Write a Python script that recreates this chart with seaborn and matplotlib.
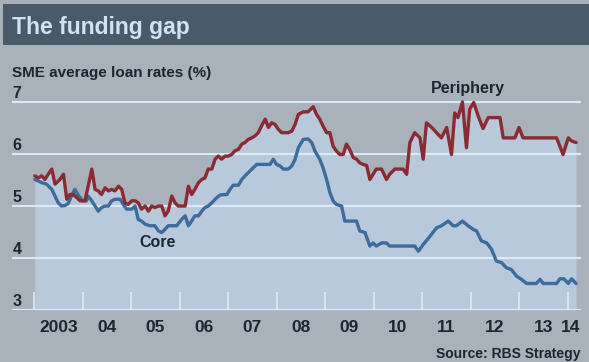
import numpy as np
import pandas as pd
import matplotlib
matplotlib.use("Agg")
import matplotlib.pyplot as plt
from matplotlib.patches import Rectangle
from matplotlib.transforms import blended_transform_factory, offset_copy
import seaborn as sns

# months since Jan 2003, rates in %
periphery_month = [0.2, 1.1, 1.9, 2.7, 3.5, 4.4, 5.2, 6.4, 7.3, 8.1,
                   8.9, 9.7, 10.6, 11.4, 12.6, 13.4, 14.3, 15.1, 15.9, 16.7,
                   17.6, 18.4, 19.2, 20.0, 20.9, 21.7, 22.5, 23.3, 24.2, 25.0,
                   25.8, 26.6, 27.5, 28.3, 29.1, 29.9, 30.8, 31.6, 32.4, 33.2,
                   34.1, 34.9, 35.7, 36.5, 37.4, 38.2, 39.0, 39.8, 40.7, 41.5,
                   42.3, 43.1, 44.0, 44.8, 45.6, 46.4, 47.3, 48.1, 48.9, 49.7,
                   50.6, 51.4, 52.2, 53.0, 53.9, 54.7, 55.5, 56.3, 57.2, 58.0,
                   58.8, 59.6, 60.5, 61.3, 62.1, 62.9, 63.8, 64.6, 65.4,
                   66.6, 67.8, 69.1, 69.9, 70.7, 71.5, 72.4, 73.2, 74.0, 74.8,
                   75.7, 76.5, 77.3, 78.1, 79.0, 79.8, 80.6, 81.4, 82.3, 83.1,
                   83.9, 84.7, 86.0, 87.2, 88.0, 89.3, 90.5, 91.3, 92.2, 93.0,
                   94.2, 95.5, 96.3, 97.1, 98.4, 99.6, 100.8, 102.1, 103.3, 104.1,
                   104.9, 106.0, 107.0, 107.8, 108.8, 109.9, 111.1, 112.4, 114.0, 115.3,
                   116.1, 117.7, 119.0, 120.0, 121.0, 122.7, 126.0, 129.3, 130.9, 132.2,
                   133.0, 134.1]
periphery_rate = [5.58, 5.54, 5.58, 5.51, 5.61, 5.71, 5.42, 5.51, 5.61, 5.13,
                  5.22, 5.22, 5.16, 5.10, 5.10, 5.38, 5.71, 5.32, 5.29, 5.22,
                  5.35, 5.29, 5.32, 5.29, 5.38, 5.32, 5.06, 5.03, 5.10, 5.10,
                  5.06, 4.94, 5.00, 4.90, 5.00, 4.97, 5.00, 5.00, 4.81, 4.90,
                  5.19, 5.06, 5.00, 5.00, 5.00, 5.38, 5.22, 5.32, 5.45, 5.51,
                  5.54, 5.71, 5.71, 5.90, 5.96, 5.90, 5.96, 5.96, 5.99, 6.06,
                  6.09, 6.19, 6.22, 6.28, 6.31, 6.35, 6.41, 6.54, 6.67, 6.51,
                  6.60, 6.57, 6.47, 6.41, 6.41, 6.41, 6.44, 6.57, 6.76,
                  6.81, 6.81, 6.91, 6.76, 6.67, 6.54, 6.41, 6.41, 6.15, 6.06,
                  5.99, 5.99, 6.19, 6.09, 5.93, 5.90, 5.83, 5.80, 5.78, 5.51,
                  5.61, 5.71, 5.71, 5.51, 5.61, 5.71, 5.71, 5.71, 5.61, 6.22,
                  6.41, 6.31, 5.90, 6.60, 6.51, 6.41, 6.31, 6.51, 5.99, 6.79,
                  6.70, 7.00, 6.12, 6.86, 6.99, 6.73, 6.49, 6.70, 6.70, 6.70,
                  6.31, 6.31, 6.31, 6.51, 6.31, 6.31, 6.31, 6.31, 5.99, 6.31,
                  6.25, 6.22]

core_month = [0.2, 1.9, 3.1, 4.4, 5.2, 6.0, 6.8, 7.7, 8.5, 9.3,
              10.1, 11.0, 12.0, 13.0, 13.4, 14.3, 15.1, 15.9, 16.7, 17.6,
              18.4, 19.2, 20.0, 21.3, 22.1, 22.9, 24.2, 25.0, 25.8, 26.6,
              27.5, 28.7, 29.9, 30.8, 31.6, 32.4, 33.2, 34.5, 35.3, 36.5,
              37.4, 38.2, 39.0, 39.8, 40.7, 41.5, 42.3, 43.1, 44.0, 44.8,
              46.0, 46.9, 47.7, 48.5, 49.3, 50.6, 51.4, 52.6, 53.9, 55.1,
              56.3, 57.6, 58.4, 59.2, 60.0, 60.9, 61.7, 62.9, 63.8, 64.6,
              65.4, 66.6, 67.8, 68.7, 69.5, 70.7, 71.5, 72.4, 73.2, 74.0,
              74.8, 76.1, 76.9, 78.1, 79.8, 80.6, 81.9, 83.1, 83.9, 84.7,
              86.0, 87.2, 88.0, 89.7, 91.3, 93.0, 94.2, 95.1, 96.3, 98.0,
              99.6, 100.8, 102.5, 103.7, 104.5, 106.0, 107.4, 108.7, 109.5, 110.7,
              112.0, 113.2, 114.4, 115.7, 116.9, 118.1, 119.4, 120.6, 121.9, 123.1,
              124.3, 125.2, 126.0, 127.6, 129.3, 130.1, 131.1, 132.2, 133.0, 134.1]
core_rate = [5.51, 5.45, 5.42, 5.32, 5.19, 5.06, 5.00, 5.01, 5.05, 5.20,
             5.32, 5.20, 5.10, 5.10, 5.19, 5.10, 5.00, 4.90, 4.97, 5.00,
             5.00, 5.10, 5.13, 5.13, 5.03, 4.94, 4.94, 5.00, 4.74, 4.71,
             4.65, 4.62, 4.62, 4.52, 4.49, 4.55, 4.62, 4.62, 4.62, 4.74,
             4.81, 4.62, 4.71, 4.81, 4.81, 4.90, 4.97, 5.00, 5.06, 5.13,
             5.21, 5.22, 5.22, 5.32, 5.40, 5.40, 5.51, 5.61, 5.71, 5.80,
             5.80, 5.80, 5.80, 5.90, 5.80, 5.77, 5.71, 5.71, 5.77, 5.90,
             6.12, 6.28, 6.29, 6.22, 6.06, 5.90, 5.74, 5.51, 5.26, 5.10,
             5.03, 5.00, 4.71, 4.71, 4.71, 4.52, 4.49, 4.23, 4.29, 4.23,
             4.29, 4.29, 4.23, 4.23, 4.23, 4.23, 4.23, 4.13, 4.26, 4.42,
             4.58, 4.62, 4.71, 4.62, 4.62, 4.71, 4.62, 4.55, 4.52, 4.33,
             4.29, 4.17, 3.94, 3.91, 3.81, 3.78, 3.65, 3.59, 3.51, 3.51,
             3.51, 3.59, 3.51, 3.51, 3.51, 3.60, 3.60, 3.51, 3.60, 3.51]

year_labels = ["2003", "04", "05", "06", "07", "08", "09", "10", "11", "12", "13", "14"]
y_ticks = [3, 4, 5, 6, 7]

BG = "#a9b1bb"
FILL = "#b8c9dc"
GRID = "#dce9f6"
BAR = "#4b5a6a"
TITLE_C = "#cfe3f7"
TEXT = "#1c2630"
RED = "#8a2a32"
BLUE = "#3b6c9b"

sns.set_style("white")
plt.rcParams["font.family"] = ["Liberation Sans", "DejaVu Sans"]
plt.rcParams["font.weight"] = "bold"

per = pd.DataFrame({"year": 2003 + np.array(periphery_month) / 12, "rate": periphery_rate})
core = pd.DataFrame({"year": 2003 + np.array(core_month) / 12, "rate": core_rate})

W, H = 589, 362
fig = plt.figure(figsize=(W / 100, H / 100), dpi=100, facecolor=BG)

# title bar
fig.add_artist(Rectangle((3 / W, 1 - 45 / H), 586 / W, 41 / H, transform=fig.transFigure,
                         facecolor=BAR, edgecolor="none"))
fig.text(12 / W, 1 - 34 / H, "The funding gap", color=TITLE_C, fontsize=16.5,
         fontweight="bold", va="baseline", ha="left")
fig.text(12 / W, 1 - 77 / H, "SME average loan rates (%)", color=TEXT, fontsize=11,
         fontweight="bold", va="baseline", ha="left")

ax = fig.add_axes([12 / W, 52 / H, 569 / W, (310 - 92) / H])
ax.set_facecolor(BG)
ax.set_axisbelow(False)
ax.set_xlim(2003 - 22 / 48.5, 2003 + 547 / 48.5)
ax.set_ylim(3, 3 + (310 - 92) / 52)
for s in ax.spines.values():
    s.set_visible(False)

ax.fill_between(per["year"], per["rate"], 3, color=FILL, lw=0, zorder=1)
for y in y_ticks:
    ax.axhline(y, color=GRID, lw=1.5, zorder=2)

sns.lineplot(data=core, x="year", y="rate", color=BLUE, lw=2.4, ax=ax,
             sort=False, estimator=None, zorder=3)
sns.lineplot(data=per, x="year", y="rate", color=RED, lw=2.4, ax=ax,
             sort=False, estimator=None, zorder=4)
ax.set_xlabel("")
ax.set_ylabel("")

# year boundary ticks (inside) and labels at mid-year
years = list(range(2003, 2015))
ax.set_xticks(years)
ax.set_xticklabels([])
ax.tick_params(axis="x", which="major", direction="in", length=13, width=1.3,
               color=GRID, bottom=True)
label_pos = [y + 0.5 for y in years[:-1]] + [2014.07]
ax.set_xticks(label_pos, minor=True)
ax.set_xticklabels(year_labels, minor=True, fontsize=12.5, fontweight="bold", color=TEXT)
ax.tick_params(axis="x", which="minor", length=0, pad=7)
ax.set_yticks([])

trans = offset_copy(blended_transform_factory(ax.transAxes, ax.transData), fig=fig,
                    x=0.5, y=3.5, units="dots")
for y in y_ticks:
    ax.text(0, y, str(y), transform=trans, fontsize=11.5, fontweight="bold",
            color=TEXT, ha="left", va="baseline")

ax.text(2003 + (468 - 34) / 48.5, 3 + (310 - 93) / 52, "Periphery", fontsize=11.5,
        fontweight="bold", color=TEXT, ha="center", va="baseline")
ax.text(2003 + (158 - 34) / 48.5, 3 + (310 - 242.5) / 52, "Core", fontsize=11.5,
        fontweight="bold", color=TEXT, ha="center", va="center")

fig.text(581 / W, 1 - 358 / H, "Source: RBS Strategy", color=TEXT, fontsize=10,
         fontweight="bold", ha="right", va="baseline")

fig.savefig("out.png", dpi=100, facecolor=BG)
